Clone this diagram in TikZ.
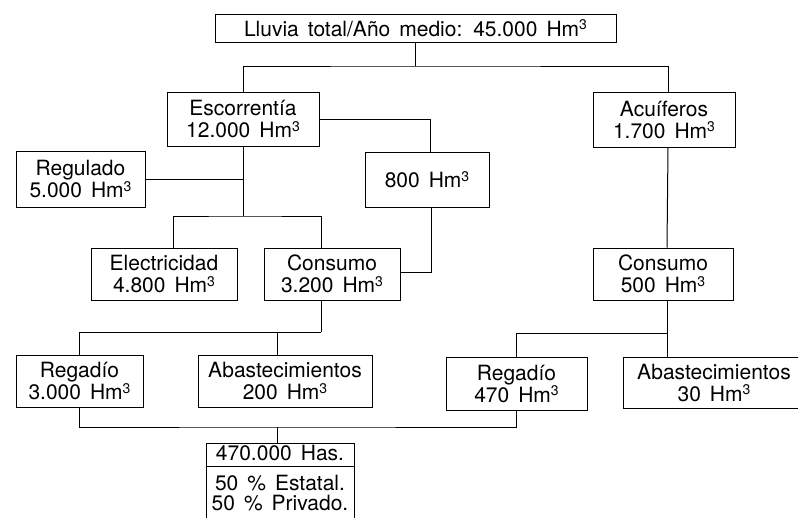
\documentclass[tikz,border=0pt]{standalone}
\usepackage{fontspec}
\setmainfont{TeX Gyre Heros}

\newcommand\letra{\fontsize{21}{22}\selectfont\spaceskip=9pt plus 2pt\relax}
\newcommand\hmc{Hm\raisebox{6.5pt}{\fontsize{14}{14}\selectfont 3}}

\tikzset{
  texto/.style={inner sep=0pt, align=center, font=\letra},
  caja/.style={texto, draw, line width=1pt},
}

\begin{document}
\begin{tikzpicture}[x=1pt, y=-1pt, line width=1pt]
    \useasboundingbox (0,0) rectangle (798,517);
    \node[caja, minimum width=401pt, minimum height=28pt] (lluvia) at (415.5,28) {Lluvia total/Año medio: 45.000 \hmc};
    \node[caja, minimum width=152pt, minimum height=54pt] (esc) at (243,119) {Escorrentía\\12.000 \hmc};
    \node[caja, minimum width=142pt, minimum height=55pt] (acu) at (664,119.5) {Acuíferos\\1.700 \hmc};
    \node[caja, minimum width=129pt, minimum height=56pt] (reg) at (80.5,179) {Regulado\\5.000 \hmc};
    \node[caja, minimum width=124pt, minimum height=55pt] (m800) at (427,179.5) {800 \hmc};
    \node[caja, minimum width=146pt, minimum height=52pt] (elec) at (164,274) {Electricidad\\4.800 \hmc};
    \node[caja, minimum width=136pt, minimum height=52pt] (cons1) at (332,274) {Consumo\\3.200 \hmc};
    \node[caja, minimum width=140pt, minimum height=52pt] (cons2) at (663,274) {Consumo\\500 \hmc};
    \node[caja, minimum width=127pt, minimum height=52pt] (rega1) at (79.5,381) {Regadío\\3.000 \hmc};
    \node[caja, minimum width=174pt, minimum height=52pt] (abas1) at (285,381) {Abastecimientos\\200 \hmc};
    \node[caja, minimum width=141pt, minimum height=53pt] (rega2) at (516.5,383.5) {Regadío\\470 \hmc};
    \node[caja, minimum width=182pt, minimum height=51pt] (abas2) at (714,382.5) {Abastecimientos\\30 \hmc};
    \node[caja, minimum width=148pt, minimum height=100pt, anchor=north] (area) at (280,443) {};
    \node[texto, anchor=base] (has) at (280,460) {470.000 Has.};
    \node[texto, anchor=base] (est) at (280,490) {50 \% Estatal.};
    \node[texto, anchor=base] (priv) at (280,510) {50 \% Privado.};
    \draw ([yshift=-23pt]area.north west) -- ([yshift=-23pt]area.north east);
    \coordinate (h1) at (415.5,66);
    \coordinate (h2) at (243,216);
    \coordinate (h3) at (321,332);
    \coordinate (h4) at (667,333);
    \coordinate (h5) at (277,427);
    \draw (lluvia) -- (h1);
    \draw (esc.north) |- (h1) -| ([xshift=4pt]acu.north);
    \draw (esc.east) -| ([xshift=3pt]m800.north);
    \draw (esc) -- (h2);
    \draw (reg.east) -- (reg.east -| h2);
    \draw ([xshift=9pt]elec.north) |- (h2) -| ([xshift=-11pt]cons1.north);
    \draw ([xshift=4pt]m800.south) |- ([yshift=2pt]cons1.east);
    \draw ([xshift=-11pt]cons1.south) -- (h3);
    \draw (rega1.north) |- (h3);
    \draw ([xshift=-8pt]abas1.north) -- ([xshift=-8pt]abas1.north |- h3);
    \draw ([xshift=4pt]acu.south) -- (cons2.north -| h4);
    \draw (cons2.south -| h4) -- (abas2.north -| h4);
    \draw (rega2.north) |- (h4);
    \draw (rega1.south) |- (h5) -| (rega2.south);
    \draw (h5) -- (area.north -| h5);
\end{tikzpicture}
\end{document}
